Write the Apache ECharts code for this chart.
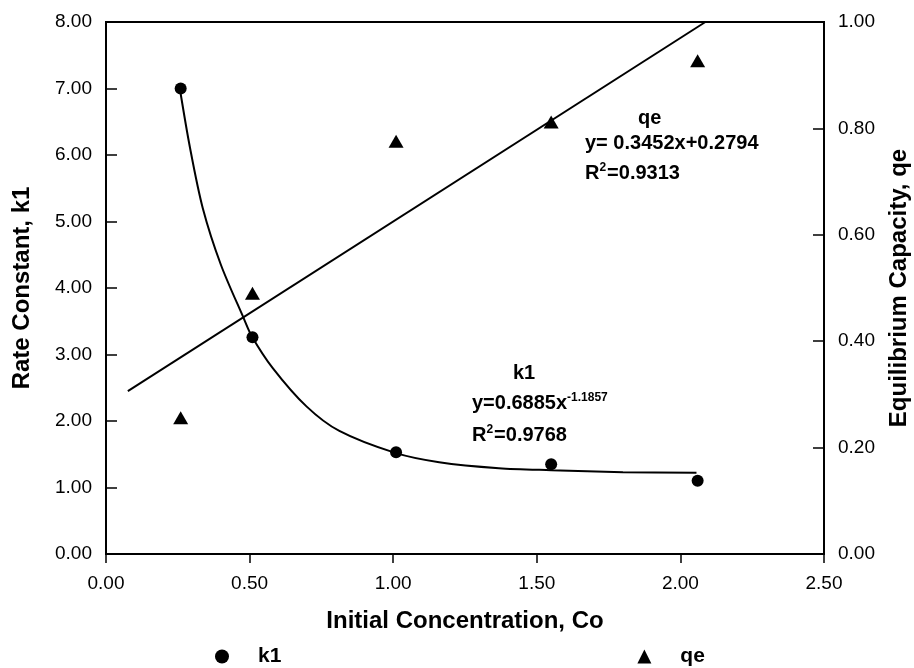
<!DOCTYPE html>
<html>
<head>
<meta charset="utf-8">
<script src="https://cdn.jsdelivr.net/npm/echarts@6/dist/echarts.min.js"></script>
<style>
  html, body { margin: 0; padding: 0; background: #fff; }
  #main { width: 914px; height: 668px; }
</style>
</head>
<body>
<div id="main"></div>
<script>
// measured points
var concX = [0.26, 0.51, 1.01, 1.55, 2.06];
var k1Values = [7.0, 3.26, 1.53, 1.35, 1.1];
var qeValues = [0.256, 0.49, 0.776, 0.812, 0.927];

// fitted curves
var k1Fit = [
  [0.257, 7.0], [0.292, 6.12], [0.337, 5.2], [0.40, 4.35], [0.479, 3.55], [0.507, 3.28],
  [0.58, 2.8], [0.698, 2.22], [0.8125, 1.85], [1.007, 1.52], [1.16, 1.38],
  [1.368, 1.29], [1.55, 1.26], [1.8, 1.23], [2.056, 1.22]
];
var qeFit = [[0.076, 0.306], [2.087, 1.0]];

var xTicks = { min: 0, max: 2.5, interval: 0.5 };
var k1Ticks = { min: 0, max: 8, interval: 1 };
var qeTicks = { min: 0, max: 1, interval: 0.2 };

var font = "Liberation Sans, Arial, sans-serif";

var chart = echarts.init(document.getElementById("main"));

var labelStyle = { color: "#000", fontFamily: font, fontSize: 19 };
var nameStyle = { color: "#000", fontFamily: font, fontSize: 24, fontWeight: "bold" };
var axisLine = { show: true, lineStyle: { color: "#000", width: 2 } };
var fmt = function (v) { return v.toFixed(2); };

var sup = { font: "bold 12px " + font, fill: "#000", verticalAlign: "top", padding: [0, 1, 10, 0] };
var big = { font: "bold 20px " + font, fill: "#000" };

var option = {
  backgroundColor: "#fff",
  animation: false,
  grid: {
    left: 106, right: 90, top: 22, bottom: 114,
    outerBoundsMode: "none",
    show: true, borderColor: "#000", borderWidth: 2
  },
  legend: {
    data: [
      { name: "k1", icon: "circle" },
      { name: "qe", icon: "triangle" }
    ],
    left: 210, top: 641,
    itemWidth: 14, itemHeight: 14,
    itemGap: 356,
    textStyle: {
      color: "#000", fontFamily: font, fontSize: 21, fontWeight: "bold",
      padding: [0, 0, 0, 24]
    }
  },
  xAxis: {
    type: "value",
    min: xTicks.min, max: xTicks.max, interval: xTicks.interval,
    name: "Initial Concentration, Co",
    nameLocation: "middle", nameGap: 55,
    nameTextStyle: nameStyle,
    axisLine: axisLine,
    axisTick: { show: true, inside: false, length: 9, lineStyle: { color: "#000", width: 1.5 } },
    axisLabel: Object.assign({ margin: 20, formatter: fmt }, labelStyle),
    splitLine: { show: false }
  },
  yAxis: [
    {
      type: "value",
      min: k1Ticks.min, max: k1Ticks.max, interval: k1Ticks.interval,
      name: "Rate Constant, k1",
      nameLocation: "middle", nameGap: 72,
      nameTextStyle: nameStyle,
      axisLine: axisLine,
      axisTick: { show: true, inside: true, length: 11, lineStyle: { color: "#000", width: 1.5 } },
      axisLabel: Object.assign({ margin: 14, formatter: fmt }, labelStyle),
      splitLine: { show: false }
    },
    {
      type: "value",
      position: "right",
      min: qeTicks.min, max: qeTicks.max, interval: qeTicks.interval,
      name: "Equilibrium Capacity, qe",
      nameLocation: "middle", nameGap: 63,
      nameTextStyle: nameStyle,
      axisLine: axisLine,
      axisTick: { show: true, inside: true, length: 11, lineStyle: { color: "#000", width: 1.5 } },
      axisLabel: Object.assign({ margin: 14, formatter: fmt }, labelStyle),
      splitLine: { show: false }
    }
  ],
  series: [
    {
      name: "k1 fit",
      type: "line",
      yAxisIndex: 0,
      data: k1Fit,
      smooth: 0.3,
      showSymbol: false,
      lineStyle: { color: "#000", width: 2 },
      z: 2
    },
    {
      name: "qe fit",
      type: "line",
      yAxisIndex: 1,
      data: qeFit,
      showSymbol: false,
      lineStyle: { color: "#000", width: 2 },
      z: 2
    },
    {
      name: "k1",
      type: "scatter",
      yAxisIndex: 0,
      symbol: "circle",
      symbolSize: 12,
      itemStyle: { color: "#000", opacity: 1 },
      data: concX.map(function (x, i) { return [x, k1Values[i]]; }),
      z: 3
    },
    {
      name: "qe",
      type: "scatter",
      yAxisIndex: 1,
      symbol: "triangle",
      symbolSize: [15, 13],
      itemStyle: { color: "#000", opacity: 1 },
      data: concX.map(function (x, i) { return [x, qeValues[i]]; }),
      z: 3
    }
  ],
  graphic: [
    { type: "text", left: 638, top: 108, style: { text: "qe", font: "bold 20px " + font, fill: "#000" } },
    { type: "text", left: 585, top: 133, style: { text: "y= 0.3452x+0.2794", font: "bold 20px " + font, fill: "#000" } },
    { type: "text", left: 585, top: 162, style: { text: "{a|R}{s|2}{a|=0.9313}", rich: { a: big, s: sup } } },
    { type: "text", left: 513, top: 363, style: { text: "k1", font: "bold 20px " + font, fill: "#000" } },
    { type: "text", left: 472, top: 392, style: { text: "{a|y=0.6885x}{s|-1.1857}", rich: { a: big, s: sup } } },
    { type: "text", left: 472, top: 424, style: { text: "{a|R}{s|2}{a|=0.9768}", rich: { a: big, s: sup } } }
  ]
};

chart.setOption(option);
</script>
</body>
</html>
